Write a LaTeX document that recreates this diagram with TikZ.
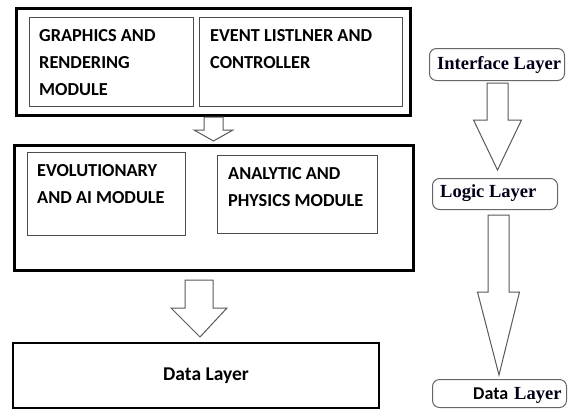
\documentclass[tikz,border=0pt]{standalone}
\usepackage{fontspec}
\setmainfont{Liberation Serif}
\newfontfamily\calib{Carlito}
\usetikzlibrary{calc}

\tikzset{
  outerbox/.style={draw=black, line width=3.2pt, inner sep=0pt, anchor=north west},
  modbox/.style={draw=black!70, line width=1.3pt, inner sep=0pt, anchor=north west},
  modtext/.style={anchor=north west, inner sep=0pt, align=left,
    font=\calib\bfseries\fontsize{18.3}{27}\selectfont},
  layerbox/.style={draw=black!60, line width=1pt, rounded corners=7pt, inner sep=0pt, anchor=north west},
  layertext/.style={inner sep=0pt, font=\bfseries\fontsize{18.5}{20}\selectfont, text=black!90!blue},
  arrowline/.style={draw=black!65, line width=1pt, line join=miter, fill=white},
}

% hollow block arrow: #1 top, #2 tip, #3 half shaft, #4 half head, #5 head length
\newcommand\hollowarrow[5]{%
  \draw[arrowline] let \p1=(#1), \p2=(#2) in
    (\x1-#3,\y1) -- (\x1+#3,\y1) -- (\x1+#3,\y2+#5) -- (\x1+#4,\y2+#5)
    -- (\x2,\y2) -- (\x1-#4,\y2+#5) -- (\x1-#3,\y2+#5) -- cycle;}

\begin{document}
\begin{tikzpicture}[x=1pt,y=-1pt]
\useasboundingbox (0,0) rectangle (568,408);

% interface layer
\node[outerbox, minimum width=394pt, minimum height=107pt] (ui) at (15,7) {};
\node[modbox, minimum width=164pt, minimum height=89pt] (gfx) at (29,17) {};
\node[modbox, minimum width=203pt, minimum height=89pt] (evt) at (199,17) {};
\node[modtext] (gfxt) at (39,29) {GRAPHICS AND\\RENDERING\\MODULE};
\node[modtext] (evtt) at (210,29) {EVENT LISTLNER AND\\CONTROLLER};

% logic layer
\node[outerbox, minimum width=399pt, minimum height=125pt] (logic) at (13,144) {};
\node[modbox, minimum width=158pt, minimum height=83pt] (evo) at (27,152) {};
\node[modbox, minimum width=160pt, minimum height=78pt] (phy) at (217,155) {};
\node[modtext] (evot) at (37,164) {EVOLUTIONARY\\AND AI MODULE};
\node[modtext] (phyt) at (228,167) {ANALYTIC AND\\PHYSICS MODULE};

% data layer
\node[draw=black, line width=2.4pt, inner sep=0pt, anchor=north west,
  minimum width=366pt, minimum height=65pt] (data) at (12,342) {};
\node[inner sep=0pt, font=\calib\bfseries\fontsize{19.5}{22}\selectfont] (datat) at (206,376) {Data Layer};

% arrows between the layers
\coordinate (a1s) at (213.5,117); \coordinate (a1e) at (213.5,141);
\coordinate (a2s) at (199,280);   \coordinate (a2e) at (200,337);
\hollowarrow{a1s}{a1e}{9.5}{19.5}{11}
\hollowarrow{a2s}{a2e}{14}{28}{29}

% layer legend on the right
\node[layerbox, minimum width=135pt, minimum height=32pt] (lif) at (429,48) {};
\node[layertext, anchor=west] (lift) at (437,65) {Interface Layer};
\node[layerbox, minimum width=125pt, minimum height=31pt] (llg) at (432,178) {};
\node[layertext, anchor=west] (llgt) at (440,193) {Logic Layer};
\node[layerbox, minimum width=134pt, minimum height=28pt] (ldt) at (432,379) {};
\node[inner sep=0pt, anchor=base west, font=\calib\bfseries\fontsize{18}{20}\selectfont] (ldta) at (473,399) {Data};
\node[layertext, anchor=base west] (ldtb) at (514,399) {Layer};

\coordinate (b1s) at (497.5,83);  \coordinate (b1e) at (497.5,170);
\coordinate (b2s) at (498.5,215); \coordinate (b2e) at (499,375);
\hollowarrow{b1s}{b1e}{10.5}{24}{50}
\hollowarrow{b2s}{b2e}{10.5}{21}{83}
\end{tikzpicture}
\end{document}
